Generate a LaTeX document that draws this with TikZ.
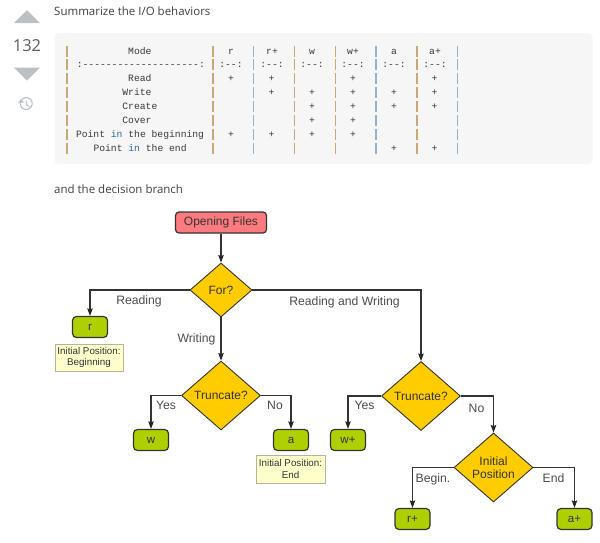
\documentclass[tikz,border=0pt]{standalone}
\usepackage{fontspec}
\setmainfont{Liberation Sans}
\setmonofont{Liberation Mono}
\newfontfamily\uifont{Open Sans}
\usetikzlibrary{shapes.geometric,arrows.meta}
\definecolor{inkgray}{HTML}{3C4146}
\definecolor{votegray}{HTML}{BBC0C4}
\definecolor{tablebg}{HTML}{F6F6F6}
\definecolor{monoink}{HTML}{39393F}
\definecolor{bartan}{HTML}{C9A876}
\definecolor{barblue}{HTML}{8FB3CC}
\definecolor{kwblue}{HTML}{2F6F9F}
\definecolor{flowline}{HTML}{333333}
\definecolor{startred}{HTML}{FF7B80}
\definecolor{decgold}{HTML}{FFCC00}
\definecolor{endgreen}{HTML}{AFD000}
\definecolor{notefill}{HTML}{FFFFCC}
\definecolor{noteline}{HTML}{B4B4A0}
\tikzset{
  uitext/.style={font=\uifont\fontsize{11.5}{13}\selectfont,text=inkgray,inner sep=0pt,anchor=west},
  monocell/.style={font=\ttfamily\fontsize{9.7}{11}\selectfont,text=monoink,inner sep=0pt,anchor=base},
  monoleft/.style={monocell,anchor=base west},
  startbox/.style={draw=flowline,line width=1.2pt,fill=startred,rounded corners=3.5pt,minimum width=91pt,minimum height=21pt,inner sep=0pt,font=\fontsize{12}{14}\selectfont,text=black!80},
  resultbox/.style={draw=flowline,line width=1.2pt,fill=endgreen,rounded corners=4pt,minimum width=35pt,minimum height=21pt,inner sep=0pt,font=\fontsize{11.5}{13}\selectfont,text=black!80},
  decision/.style={diamond,draw=flowline,line width=.9pt,fill=decgold,aspect=1.14,inner sep=0pt,font=\fontsize{12}{14}\selectfont,text=black!80,align=center},
  notebox/.style={draw=noteline,line width=.8pt,fill=notefill,inner sep=0pt,align=center,font=\fontsize{9.8}{11.5}\selectfont,text=black!80},
  flowarrow/.style={draw=flowline,line width=1.1pt,-{Stealth[length=7.5pt,width=5.5pt,inset=1pt,color=black!85]}},
  flowlabel/.style={font=\fontsize{12.2}{14}\selectfont,text=black!70,inner sep=0pt},
}
\begin{document}
\begin{tikzpicture}[x=1pt,y=-1pt]
\useasboundingbox (0,0) rectangle (600,542);
% vote column
\fill[votegray] (14,23) -- (27,10) -- (40,23) -- cycle;
\fill[votegray] (14,67.5) -- (40,67.5) -- (27,80.5) -- cycle;
\node[font=\uifont\fontsize{16.5}{18}\selectfont,text=inkgray!85,inner sep=0pt] (votes) at (27,46) {132};
\draw[votegray,line width=1.1pt] (21.3,100) arc[start angle=215,end angle=-140,radius=6];
\draw[votegray,line width=1.1pt] (26.4,100.5) -- (26.4,104.6) -- (29.5,106.4);
\fill[votegray] (18.2,102.6) -- (24,102.6) -- (21.1,99) -- cycle;
% text
\node[uitext] (summary) at (54,11) {Summarize the I/O behaviors};
\node[uitext] (branch) at (54,189) {and the decision branch};
% table
\fill[tablebg,rounded corners=4pt] (54.5,33) rectangle (592.5,164);
\foreach \rowy in {54,67.9,81.8,95.7,109.6,123.5,137.4,151.3}{
  \foreach \barx/\barcol in {67/bartan,213/bartan,253.7/barblue,294.5/bartan,335.2/bartan,376/barblue,416.8/bartan,457.7/barblue}{
    \fill[\barcol] (\barx-.7,\rowy-8.5) rectangle (\barx+.7,\rowy+2.5);
  }
}
\node[monoleft] at (128,54) {Mode};
\foreach \colx/\hdr in {231/r,272/r+,312/w,353/w+,394/a,435/a+}{
  \node[monocell] at (\colx,54) {\hdr};
  \node[monocell] at (\colx,67.9) {:-{}-:};
}
\node[monoleft] at (76.6,67.9) {:-{}-{}-{}-{}-{}-{}-{}-{}-{}-{}-{}-{}-{}-{}-{}-{}-{}-{}-{}-{}:};
\node[monoleft] at (128,81.8) {Read};
\node[monoleft] at (122.2,95.7) {Write};
\node[monoleft] at (122.2,109.6) {Create};
\node[monoleft] at (122.2,123.5) {Cover};
\node[monoleft] at (75.8,137.4) {Point \textcolor{kwblue}{in} the beginning};
\node[monoleft] at (93.3,151.3) {Point \textcolor{kwblue}{in} the end};
\foreach \colx/\rowy in {231/81.8,271.6/81.8,353/81.8,434.6/81.8,
  271.6/95.7,312/95.7,353/95.7,394/95.7,434.6/95.7,
  312/109.6,353/109.6,394/109.6,434.6/109.6,
  312/123.5,353/123.5,
  231/137.4,271.6/137.4,312/137.4,353/137.4,
  394/151.3,434.6/151.3}{
  \node[monocell] at (\colx,\rowy) {+};
}
% flowchart nodes
\node[startbox] (open) at (221,222.5) {Opening Files};
\node[decision,minimum width=62pt,minimum height=54pt] (for) at (221,290) {For?};
\node[decision,minimum width=79pt,minimum height=69pt] (truncL) at (221,395.5) {Truncate?};
\node[decision,minimum width=79pt,minimum height=69pt] (truncR) at (421,396) {Truncate?};
\node[decision,minimum width=79pt,minimum height=69pt] (initial) at (493.5,467.5) {Initial\\[-1pt]Position};
\node[resultbox] (r) at (90,327) {r};
\node[resultbox] (w) at (151,440) {w};
\node[resultbox] (a) at (291,440) {a};
\node[resultbox] (wp) at (348,440) {w+};
\node[resultbox] (rp) at (412.5,519) {r+};
\node[resultbox] (ap) at (574.5,519) {a+};
\node[notebox,minimum width=68pt,minimum height=27pt] (noteR) at (89,357.5) {Initial Position:\\Beginning};
\node[notebox,minimum width=69pt,minimum height=28pt] (noteA) at (290.5,469) {Initial Position:\\End};
% connectors
\draw[flowarrow] (open) -- (for);
\draw[flowarrow] (for.west) -| (r.north);
\draw[flowarrow] (for) -- (truncL);
\draw[flowarrow] (for.east) -| (truncR.north);
\draw[flowarrow] (truncL.west) -| (w.north);
\draw[flowarrow] (truncL.east) -| (a.north);
\draw[flowarrow] (truncR.west) -| (wp.north);
\draw[flowarrow] (truncR.east) -| (initial.north);
\draw[flowarrow] (initial.west) -| (rp.north);
\draw[flowarrow] (initial.east) -| (ap.north);
% labels
\node[flowlabel] (l1) at (139,301) {Reading};
\node[flowlabel] (l2) at (196.5,339) {Writing};
\node[flowlabel] (l3) at (344.5,302) {Reading and Writing};
\node[flowlabel] (l4) at (166,405) {Yes};
\node[flowlabel] (l5) at (275,405.5) {No};
\node[flowlabel] (l6) at (364.5,405) {Yes};
\node[flowlabel] (l7) at (476.5,408) {No};
\node[flowlabel] (l8) at (433,479) {Begin.};
\node[flowlabel] (l9) at (553.5,478.5) {End};
\end{tikzpicture}
\end{document}
